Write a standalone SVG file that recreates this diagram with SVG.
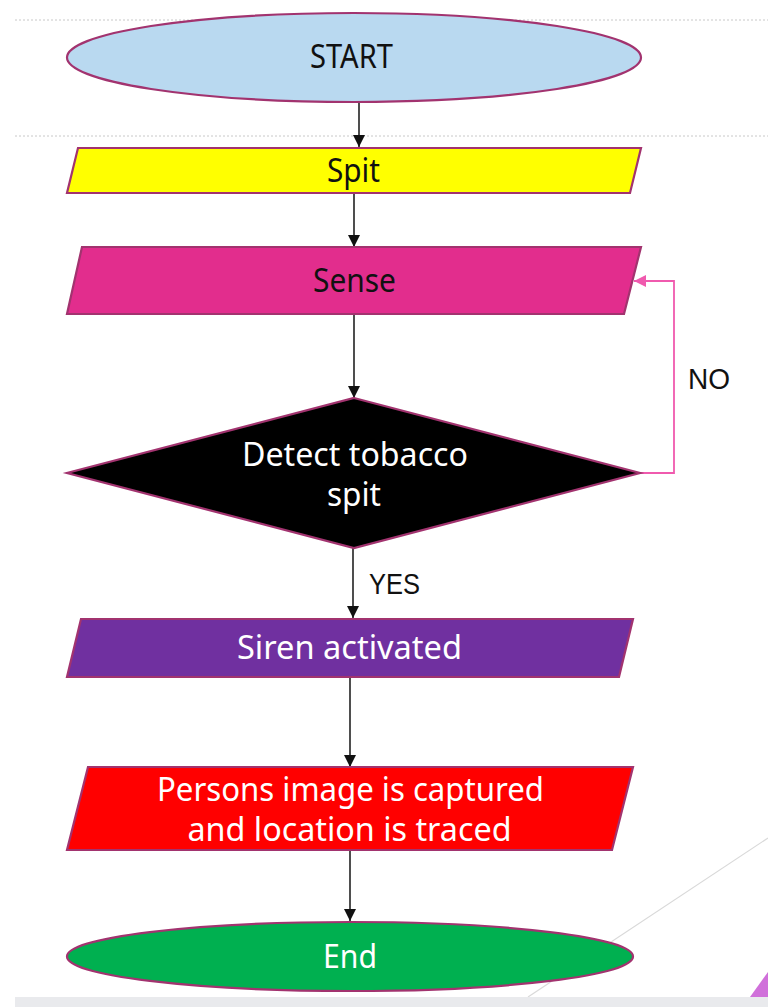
<svg xmlns="http://www.w3.org/2000/svg" width="768" height="1007" viewBox="0 0 768 1007">
  <style>
    .shape { stroke: #A2336F; stroke-width: 2.2; }
    .lbl { font-family: "Noto Sans", "Open Sans", sans-serif; font-size: 32px; text-anchor: middle; }
    .dark { fill: #111111; }
    .light { fill: #FFFFFF; }
    .edge { fill: none; stroke: #222222; stroke-width: 1.6; }
    .loop { fill: none; stroke: #F05AAE; stroke-width: 1.8; }
    .elbl { font-family: "Liberation Sans", Arial, sans-serif; font-size: 30px; fill: #111111; text-anchor: middle; }
  </style>
  <defs>
    <marker id="arr" markerUnits="userSpaceOnUse" markerWidth="12" markerHeight="14" refX="12" refY="6" orient="auto">
      <path d="M0,0 L12,6 L0,12 Z" fill="#111111"/>
    </marker>
    <marker id="arrPink" markerUnits="userSpaceOnUse" markerWidth="12" markerHeight="14" refX="12" refY="6" orient="auto">
      <path d="M0,0 L12,6 L0,12 Z" fill="#F05AAE"/>
    </marker>
  </defs>
  <rect width="768" height="1007" fill="#FFFFFF"/>
  <g id="background">
    <line x1="15" y1="20" x2="768" y2="20" stroke="#C8C8C8" stroke-width="1" stroke-dasharray="2,2"/>
    <line x1="15" y1="136" x2="768" y2="136" stroke="#C8C8C8" stroke-width="1" stroke-dasharray="2,2"/>
    <line x1="528" y1="997" x2="768" y2="838" stroke="#D9D9D9" stroke-width="1.2"/>
    <polygon points="750,997 768,972 768,997" fill="#D070DA"/>
    <rect x="15" y="997" width="753" height="10" fill="#E9EAED"/>
  </g>
  <g id="connectors">
    <line class="edge" x1="359" y1="102" x2="359" y2="147" marker-end="url(#arr)"/>
    <line class="edge" x1="354" y1="193" x2="354" y2="247" marker-end="url(#arr)"/>
    <line class="edge" x1="354" y1="314" x2="354" y2="398" marker-end="url(#arr)"/>
    <line class="edge" x1="353" y1="548" x2="353" y2="618" marker-end="url(#arr)"/>
    <line class="edge" x1="350" y1="677" x2="350" y2="767" marker-end="url(#arr)"/>
    <line class="edge" x1="350" y1="850" x2="350" y2="921" marker-end="url(#arr)"/>
    <path class="loop" d="M640,473 H674 V281 H634" marker-end="url(#arrPink)"/>
    <text class="elbl" x="709" y="389" textLength="42" lengthAdjust="spacingAndGlyphs">NO</text>
    <text class="elbl" x="394.5" y="594" textLength="51" lengthAdjust="spacingAndGlyphs">YES</text>
  </g>
  <g id="start">
    <ellipse class="shape" cx="354" cy="57.5" rx="287" ry="44.5" fill="#B9D9F0"/>
    <text class="lbl dark" x="351.5" y="68" textLength="83" lengthAdjust="spacingAndGlyphs">START</text>
  </g>
  <g id="spit">
    <polygon class="shape" points="78,148 641,148 630,193 67,193" fill="#FFFF00"/>
    <text class="lbl dark" x="353.5" y="182" textLength="53" lengthAdjust="spacingAndGlyphs">Spit</text>
  </g>
  <g id="sense">
    <polygon class="shape" points="82,247 641,247 624,314 67,314" fill="#E22D8D"/>
    <text class="lbl dark" x="354.5" y="292" textLength="83" lengthAdjust="spacingAndGlyphs">Sense</text>
  </g>
  <g id="detect">
    <polygon class="shape" points="354,398 640,473 354,548 67,473" fill="#000000"/>
    <text class="lbl light" x="355" y="466" textLength="226" lengthAdjust="spacingAndGlyphs">Detect tobacco</text>
    <text class="lbl light" x="354" y="506" textLength="54" lengthAdjust="spacingAndGlyphs">spit</text>
  </g>
  <g id="siren">
    <polygon class="shape" points="81,619 633,619 619,677 67,677" fill="#7030A0"/>
    <text class="lbl light" x="349.5" y="659" textLength="225" lengthAdjust="spacingAndGlyphs">Siren activated</text>
  </g>
  <g id="capture">
    <polygon class="shape" points="88,767 633,767 612,850 67,850" fill="#FF0000" stroke="#8A2E8A"/>
    <text class="lbl light" x="350.5" y="801" textLength="387" lengthAdjust="spacingAndGlyphs">Persons image is captured</text>
    <text class="lbl light" x="349.5" y="841" textLength="324" lengthAdjust="spacingAndGlyphs">and location is traced</text>
  </g>
  <g id="end">
    <ellipse class="shape" cx="350" cy="956.5" rx="283" ry="34.5" fill="#00B050" stroke="#8B2F6E"/>
    <text class="lbl light" x="350" y="968" textLength="54" lengthAdjust="spacingAndGlyphs">End</text>
  </g>
</svg>
